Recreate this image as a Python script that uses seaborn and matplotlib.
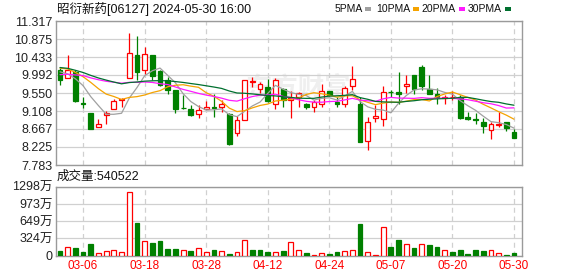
import numpy as np
import pandas as pd
import matplotlib
matplotlib.use("Agg")
import matplotlib.pyplot as plt
from matplotlib.patches import Rectangle
import seaborn as sns

# ---------------- data ----------------
dates = ["03-01", "03-04", "03-05", "03-06", "03-07", "03-08", "03-11", "03-12", "03-13", "03-14",
         "03-15", "03-18", "03-19", "03-20", "03-21", "03-22", "03-25", "03-26", "03-27", "03-28",
         "04-02", "04-03", "04-05", "04-08", "04-09", "04-10", "04-11", "04-12", "04-15", "04-16",
         "04-17", "04-18", "04-19", "04-22", "04-23", "04-24", "04-25", "04-26", "04-29", "04-30",
         "05-02", "05-03", "05-06", "05-07", "05-08", "05-09", "05-10", "05-13", "05-14", "05-16",
         "05-17", "05-20", "05-21", "05-22", "05-23", "05-24", "05-27", "05-28", "05-29", "05-30"]

opens = [10.12, 9.93, 10.06, 9.31, 9.07, 8.71, 9.00, 9.16, 9.38, 9.93,
         10.48, 10.12, 10.49, 10.10, 9.86, 9.62, 9.17, 9.16, 9.04, 9.16,
         9.20, 9.21, 9.04, 8.56, 8.89, 9.81, 9.64, 9.70, 9.27, 9.66,
         9.39, 9.44, 9.28, 9.20, 9.29, 9.60, 9.34, 9.28, 9.71, 9.28,
         8.36, 8.93, 8.92, 9.58, 9.57, 9.71, 9.98, 10.19, 9.66, 9.52,
         9.43, 9.44, 9.45, 8.97, 8.92, 8.85, 8.65, 8.76, 8.83, 8.59]
highs = [10.16, 10.48, 10.12, 9.45, 9.07, 8.92, 9.11, 9.41, 9.42, 11.02,
         10.96, 10.68, 10.49, 10.12, 9.94, 9.62, 9.50, 9.25, 9.25, 9.35,
         9.52, 9.38, 9.05, 8.99, 9.87, 9.95, 9.83, 9.89, 9.91, 9.68,
         9.60, 9.57, 9.31, 9.38, 9.78, 9.61, 9.45, 9.72, 10.22, 9.44,
         8.97, 9.25, 9.71, 9.63, 10.06, 9.98, 9.98, 10.23, 10.00, 9.67,
         9.49, 9.60, 9.49, 9.09, 9.05, 8.93, 8.83, 9.08, 8.83, 8.67]
lows = [9.75, 9.91, 9.33, 9.17, 8.67, 8.71, 8.80, 9.16, 9.20, 9.93,
        9.86, 10.02, 9.86, 9.72, 9.53, 9.05, 9.15, 8.98, 8.94, 9.16,
        8.97, 9.09, 8.27, 8.49, 8.89, 9.70, 9.55, 9.32, 9.16, 9.20,
        8.93, 9.20, 9.15, 9.08, 9.20, 9.47, 9.21, 9.21, 9.62, 8.35,
        8.15, 8.83, 8.73, 9.45, 9.28, 9.55, 9.53, 9.63, 9.52, 9.29,
        9.29, 9.37, 8.91, 8.88, 8.78, 8.57, 8.43, 8.72, 8.62, 8.44]
closes = [9.88, 10.11, 9.35, 9.29, 8.67, 8.78, 9.05, 9.35, 9.41, 10.53,
          10.07, 10.51, 9.96, 9.74, 9.63, 9.16, 9.17, 9.00, 9.13, 9.20,
          9.19, 9.28, 8.29, 8.89, 9.86, 9.84, 9.76, 9.35, 9.88, 9.39,
          9.42, 9.55, 9.20, 9.32, 9.60, 9.49, 9.28, 9.68, 9.90, 8.35,
          8.84, 8.98, 9.58, 9.57, 9.53, 9.78, 9.66, 9.73, 9.53, 9.44,
          9.46, 9.45, 8.93, 8.91, 8.88, 8.74, 8.78, 8.80, 8.68, 8.44]
# volume in 万 shares
volumes_wan = [82, 171, 152, 63, 215, 57, 95, 114, 76, 1207,
               613, 284, 234, 284, 133, 133, 107, 82, 145, 76,
               114, 95, 38, 76, 297, 114, 101, 63, 76, 82,
               265, 107, 57, 19, 51, 38, 76, 88, 107, 588,
               70, 19, 543, 171, 303, 221, 152, 221, 208, 171,
               107, 76, 114, 38, 114, 95, 107, 57, 19, 54.0522]
# closes of the 29 sessions before 03-01 (estimated, feed the moving averages)
prior_closes = [10.70, 10.80, 10.90, 10.80, 10.70, 10.60, 10.80, 10.70, 9.60, 9.65,
                9.90, 9.70, 9.60, 9.80, 9.70, 9.80, 9.80, 9.90, 10.10, 10.10,
                10.31, 10.19, 10.35, 10.07, 10.33, 10.37, 9.94, 10.14, 10.02]

ma_windows = [5, 10, 20, 30]
ma_labels = ["5PMA", "10PMA", "20PMA", "30PMA"]
ma_colors = ["#a0a0a0", "#f5a300", "#ff19ff", "#00702f"]

price_ticks = [7.783, 8.225, 8.667, 9.108, 9.550, 9.992, 10.433, 10.875, 11.317]
vol_ticks = [0, 324, 649, 973, 1298]
vol_tick_labels = ["0", "324万", "649万", "973万", "1298万"]
x_tick_labels = ["03-06", "03-18", "03-28", "04-12", "04-24", "05-07", "05-20", "05-30"]
title_text = "昭衍新药[06127] 2024-05-30 16:00"
vol_title = "成交量"
watermark = "东方财富"

RED = "#ff0000"
GREEN = "#008000"
GRID = "#d0d0d0"
FRAME = "#9a9a9a"

# ---------------- build frame ----------------
df = pd.DataFrame({"date": dates, "open": opens, "high": highs, "low": lows,
                   "close": closes, "vol": volumes_wan})
df["idx"] = np.arange(len(df))
all_close = pd.Series(prior_closes + closes)
for w in ma_windows:
    df[f"ma{w}"] = all_close.rolling(w).mean().iloc[len(prior_closes):].values
df["up"] = df["close"] > df["open"]
prev_close = [prior_closes[-1]] + closes[:-1]
df["vol_up"] = df["close"].values >= np.array(prev_close)

# ---------------- style ----------------
sns.set_theme(style="white")
plt.rcParams["font.family"] = ["Liberation Sans", "Noto Sans CJK SC"]

W, H = 578, 276
fig = plt.figure(figsize=(W / 100, H / 100), dpi=100)
fig.patch.set_facecolor("white")


def box(l, t, r, b):
    return [l / W, 1 - b / H, (r - l) / W, (b - t) / H]


ax = fig.add_axes(box(56, 21, 522, 165))
axv = fig.add_axes(box(56, 186.7, 522, 255.7))

tick_pos = [dates.index(d) for d in x_tick_labels]
XL = (-0.52, 60.04)

for a in (ax, axv):
    a.set_xlim(*XL)
    a.set_facecolor("white")
    for s in a.spines.values():
        s.set_color(FRAME)
        s.set_linewidth(1.0)
        s.set_visible(True)
    a.set_xticks(tick_pos)
    a.grid(axis="x", color=GRID, linestyle=(0, (4, 3)), linewidth=0.9)
    a.grid(axis="y", color=GRID, linestyle="-", linewidth=0.9)
    a.set_axisbelow(True)
    a.tick_params(length=0, labelsize=9, colors="#222222", pad=2.5)
    a.set_xlabel("")
    a.set_ylabel("")

# watermark
ax.text(0.52, 0.535, watermark, transform=ax.transAxes, fontsize=19, color="#efefef",
        ha="center", va="center", fontweight="bold", zorder=0.2,
        family=["Noto Sans CJK SC"])

# ---------------- price panel ----------------
ax.set_ylim(price_ticks[0], price_ticks[-1])
ax.set_yticks(price_ticks)
ax.set_yticklabels([f"{t:.3f}" for t in price_ticks])
ax.set_xticklabels([])

BW = 0.62
cols = np.where(df["up"], RED, GREEN)
ax.vlines(df["idx"], df["low"], df["high"], colors=cols, linewidth=0.9, zorder=2)
body_bottom = np.minimum(df["open"], df["close"])
body_h = np.maximum(np.abs(df["close"] - df["open"]), 0.002)
ax.bar(df["idx"], body_h, bottom=body_bottom, width=BW,
       facecolor=np.where(df["up"], "white", GREEN), edgecolor=cols,
       linewidth=0.9, zorder=3)

for w, c in zip(ma_windows, ma_colors):
    sns.lineplot(data=df, x="idx", y=f"ma{w}", color=c, linewidth=0.9, ax=ax,
                 zorder=4, legend=False)
ax.set_xlabel("")
ax.set_ylabel("")
ax.set_xlim(*XL)

# ---------------- volume panel ----------------
vcols = np.where(df["vol_up"], RED, GREEN)
axv.bar(df["idx"], df["vol"], width=BW,
        facecolor=np.where(df["vol_up"], "white", GREEN), edgecolor=vcols,
        linewidth=0.9, zorder=3)
axv.set_ylim(vol_ticks[0], vol_ticks[-1])
axv.set_yticks(vol_ticks)
axv.set_yticklabels(vol_tick_labels)
axv.set_xticklabels(x_tick_labels)
axv.tick_params(axis="x", colors=RED, labelsize=8.5, pad=3)
axv.set_xlim(*XL)

# ---------------- header texts ----------------
fig.text(57 / W, 1 - 9.5 / H, title_text, fontsize=9, color="#111111",
         ha="left", va="center")
fig.text(57 / W, 1 - 177 / H, f"{vol_title}:{int(round(volumes_wan[-1] * 10000))}",
         fontsize=9, color="#111111", ha="left", va="center")

leg_end = [363, 410, 456, 502]
sq_x = [365, 413, 459, 505]
for lab, c, lx, sx in zip(ma_labels, ma_colors, leg_end, sq_x):
    fig.text(lx / W, 1 - 9.5 / H, lab, fontsize=7.5, color="#111111",
             ha="right", va="center")
    fig.add_artist(Rectangle((sx / W, 1 - 11 / H), 6 / W, 4 / H,
                             transform=fig.transFigure, facecolor=c,
                             edgecolor="none"))

fig.savefig("out.png", dpi=100, facecolor="white")
